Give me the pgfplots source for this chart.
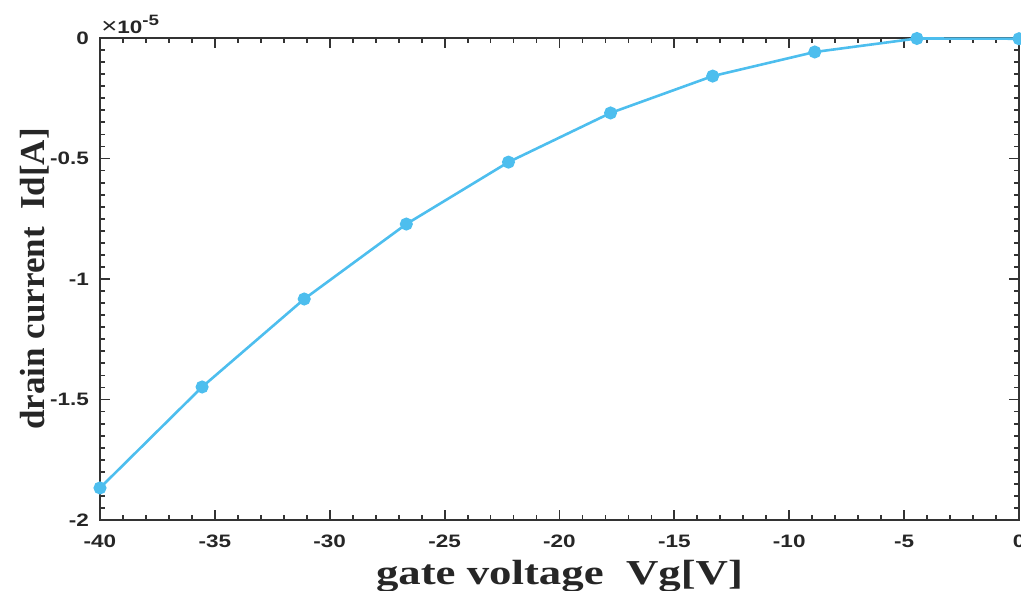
\documentclass[border=0pt]{standalone}
\usepackage{fontspec}
\setmainfont{Liberation Serif}
\setsansfont{Liberation Sans}
\newfontfamily\tickfont{Liberation Sans}[FakeStretch=1.25]
\newfontfamily\labfontx{Liberation Serif}[FakeStretch=1.28]
\usepackage{pgfplots}
\pgfplotsset{compat=1.18}

\definecolor{mlblue}{RGB}{77,190,238}

\begin{document}
\begin{tikzpicture}
\begin{axis}[
    scale only axis,
    width=459.5pt, height=241pt,
    xmin=-40, xmax=0,
    ymin=-2e-5, ymax=0,
    xtick={-40,-35,...,0},
    ytick={-2e-5,-1.5e-5,-1e-5,-0.5e-5,0},
    scaled y ticks=base 10:5,
    ytick scale label code/.code={},
    minor x tick num=4,
    minor y tick num=9,
    tick align=inside,
    major tick length=5pt,
    minor tick length=2.5pt,
    axis line style={line width=1pt, black!80},
    every tick/.style={line width=0.9pt, black!80},
    /pgf/number format/assume math mode=true,
    ticklabel style={font=\tickfont\bfseries\fontsize{9}{10}\selectfont, text=black!85},
    xticklabel style={yshift=-4pt},
    yticklabel style={xshift=-2pt},
    xlabel={\labfontx\bfseries\fontsize{17.5}{20}\selectfont gate voltage~~Vg[V]},
    ylabel={\bfseries\fontsize{17.5}{20}\selectfont drain current~~Id[A]},
    xlabel style={at={(axis description cs:0.5,0)}, anchor=base, yshift=-32pt, text=black!85},
    ylabel style={at={(axis description cs:0,0.5)}, anchor=base, yshift=28pt, text=black!85},
    clip=false,
]
\addplot[mlblue, line width=1.3pt, mark=*, mark size=2.6pt, mark options={fill=mlblue, draw=mlblue}]
coordinates {
    (-40,-1.867e-5)
    (-35.556,-1.448e-5)
    (-31.111,-1.083e-5)
    (-26.667,-0.772e-5)
    (-22.222,-0.515e-5)
    (-17.778,-0.311e-5)
    (-13.333,-0.158e-5)
    (-8.889,-0.058e-5)
    (-4.444,-0.002e-5)
    (0,-0.003e-5)
};
\node[anchor=base west, inner sep=0pt, font=\tickfont\bfseries\fontsize{9}{10}\selectfont, text=black!85]
    at (rel axis cs:0,1) [xshift=0.5pt, yshift=2.5pt]
    {{\mdseries\fontsize{11}{12}\selectfont ×}10\raisebox{4pt}{\fontsize{7.5}{8}\selectfont -5}};
\end{axis}
\pgfresetboundingbox
\useasboundingbox (-50pt,-35pt) rectangle (460.5pt,260pt);
\end{tikzpicture}
\end{document}
